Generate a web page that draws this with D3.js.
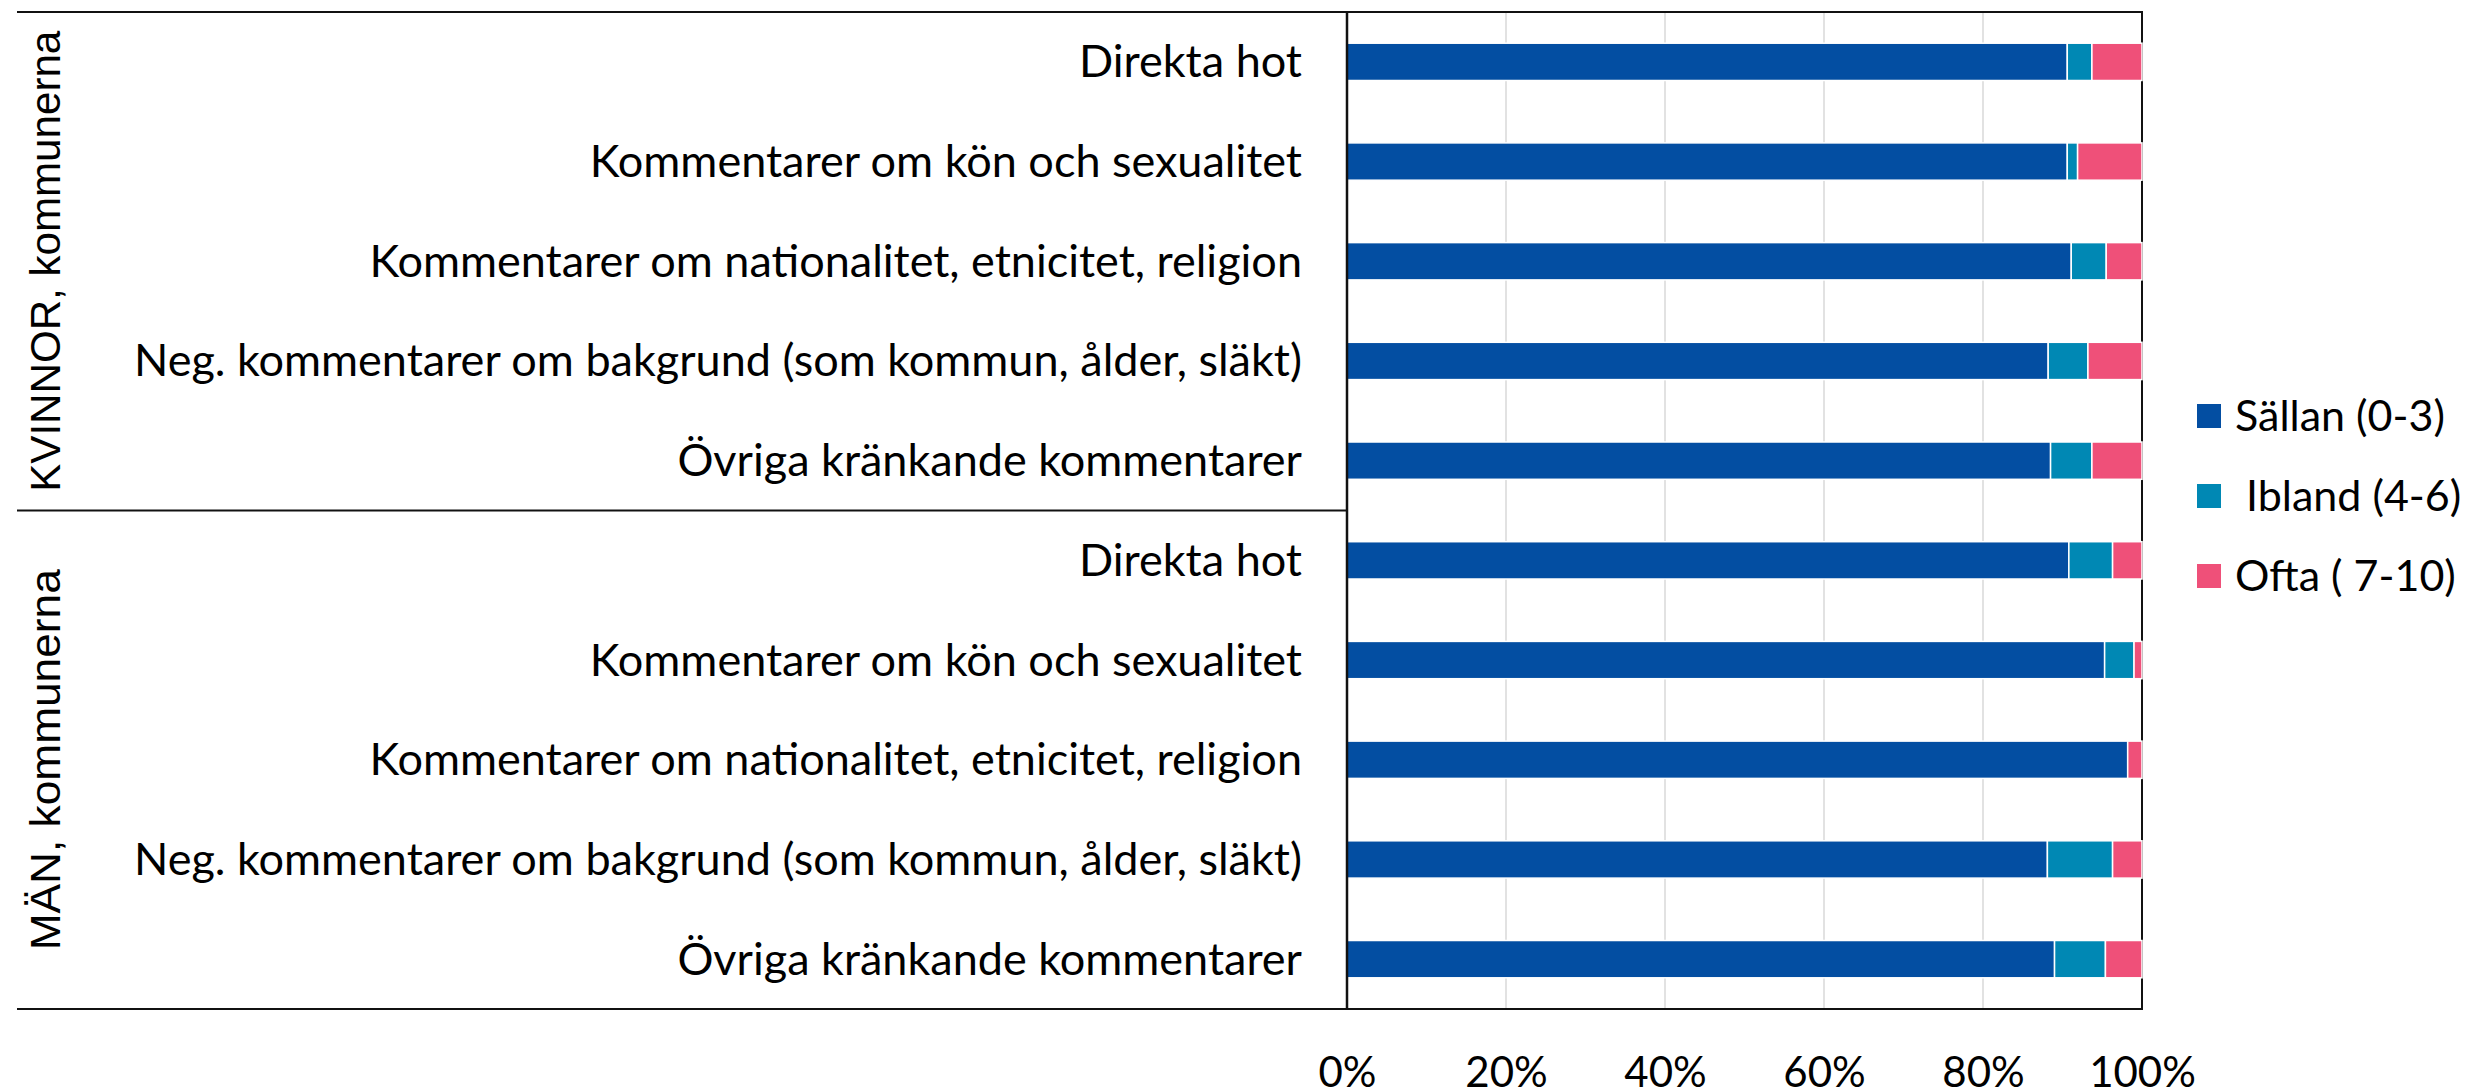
<!DOCTYPE html>
<html>
<head>
<meta charset="utf-8">
<script src="https://cdn.jsdelivr.net/npm/d3@7"></script>
<style>
  html, body { margin: 0; padding: 0; background: #fff; }
  svg { display: block; }
</style>
</head>
<body>
<svg id="chart" width="2474" height="1090"></svg>
<script>
// chart values (percent of answers)
var groups = ["KVINNOR, kommunerna", "MÄN, kommunerna"];
var categories = ["Direkta hot",
                  "Kommentarer om kön och sexualitet",
                  "Kommentarer om nationalitet, etnicitet, religion",
                  "Neg. kommentarer om bakgrund (som kommun, ålder, släkt)",
                  "Övriga kränkande kommentarer"];
var seriesNames = ["Sällan (0-3)", " Ibland (4-6)", "Ofta ( 7-10)"];
var sallan = [90.6, 90.6, 91.1, 88.2, 88.5,   90.8, 95.3, 98.2, 88.1, 89.0];
var ibland = [3.1, 1.3, 4.4, 5.0, 5.2,        5.5, 3.7, 0.0, 8.2, 6.4];
var ofta   = [6.3, 8.1, 4.5, 6.8, 6.3,        3.7, 1.0, 1.8, 3.7, 4.6];
var tickValues = [0, 0.2, 0.4, 0.6, 0.8, 1];
var colors = ["#034ea2", "#0088b4", "#ef5079"];

var svg = d3.select("#chart");
var margin = {top: 12, left: 1347, right: 332, bottom: 81};
var width = 2474 - margin.left - margin.right,
    height = 1090 - margin.top - margin.bottom;
var font = "Lato, 'Open Sans', sans-serif";

// one row per group/category pair
var rows = [];
groups.forEach(function(g, gi) {
    categories.forEach(function(c, ci) {
        var i = gi * categories.length + ci;
        rows.push({key: gi + "|" + c, group: g, cat: c,
                   s0: sallan[i] / 100, s1: ibland[i] / 100, s2: ofta[i] / 100});
    });
});

var x = d3.scaleLinear().domain([0, 1]).range([0, width]);
var y = d3.scaleBand()
    .domain(rows.map(function(d) { return d.key; }))
    .range([0, height])
    .paddingInner(0.626)
    .paddingOuter(0.313);

var g = svg.append("g").attr("transform", "translate(" + margin.left + "," + margin.top + ")");

// gridlines
g.append("g")
    .selectAll("line")
    .data(tickValues.slice(1, -1))
    .enter().append("line")
    .attr("x1", function(d) { return x(d); })
    .attr("x2", function(d) { return x(d); })
    .attr("y1", 0).attr("y2", height)
    .attr("stroke", "#d9d9d9").attr("stroke-width", 1.5);

// plot border (right side is covered by bars)
g.append("rect")
    .attr("x", 0).attr("y", 0)
    .attr("width", width).attr("height", height)
    .attr("fill", "none").attr("stroke", "#111").attr("stroke-width", 2);

var stacked = d3.stack().keys(["s0", "s1", "s2"])(rows);

g.selectAll(".series")
    .data(stacked)
    .enter().append("g")
    .attr("class", "series")
    .attr("fill", function(d, i) { return colors[i]; })
    .selectAll("rect")
    .data(function(d) { return d; })
    .enter().append("rect")
    .filter(function(d) { return d[1] - d[0] > 0; })
    .attr("x", function(d) { return x(d[0]); })
    .attr("y", function(d) { return y(d.data.key); })
    .attr("width", function(d) { return x(d[1]) - x(d[0]); })
    .attr("height", y.bandwidth())
    .attr("stroke", "#fff").attr("stroke-width", 1.5);

// left axis line
g.append("line")
    .attr("x1", 0).attr("x2", 0).attr("y1", 0).attr("y2", height)
    .attr("stroke", "#111").attr("stroke-width", 2.5);

// category labels
g.append("g")
    .selectAll("text")
    .data(rows)
    .enter().append("text")
    .attr("x", -45)
    .attr("y", function(d) { return y(d.key) + y.bandwidth() / 2 + 15.5; })
    .attr("text-anchor", "end")
    .attr("font-family", font)
    .attr("font-size", 45)
    .attr("fill", "#000")
    .text(function(d) { return d.cat; });

// group separator lines, reaching out to the left
var groupEdges = [0];
groups.forEach(function(gr, gi) {
    groupEdges.push(y(gi + "|" + categories[categories.length - 1]) + y.step() * 0.687);
});
groupEdges[groupEdges.length - 1] = height;
g.append("g")
    .selectAll("line")
    .data(groupEdges)
    .enter().append("line")
    .attr("x1", 17 - margin.left).attr("x2", function(d, i) { return (i === 1) ? 0 : width; })
    .attr("y1", function(d) { return d; }).attr("y2", function(d) { return d; })
    .attr("stroke", "#111").attr("stroke-width", 2);

// group labels, rotated
var groupLens = [461, 381];
g.append("g")
    .selectAll("text")
    .data(groups)
    .enter().append("text")
    .attr("transform", function(d, i) {
        var mid = (groupEdges[i] + groupEdges[i + 1]) / 2;
        return "translate(" + (60 - margin.left) + "," + (mid + groupLens[i] / 2) + ") rotate(-90)";
    })
    .attr("text-anchor", "start")
    .attr("font-family", "'Liberation Sans', Arial, sans-serif")
    .attr("font-size", 43)
    .attr("textLength", function(d, i) { return groupLens[i]; })
    .attr("lengthAdjust", "spacingAndGlyphs")
    .attr("fill", "#000")
    .text(function(d) { return d; });

// x axis labels
var xAxis = g.append("g")
    .attr("transform", "translate(0," + height + ")")
    .call(d3.axisBottom(x).tickValues(tickValues).tickFormat(d3.format(".0%")).tickSize(0).tickPadding(48));
xAxis.select(".domain").remove();
xAxis.selectAll("text")
    .attr("font-family", font)
    .attr("font-size", 42)
    .attr("fill", "#000");

// legend
var legend = svg.append("g").attr("transform", "translate(2197,404)");
var li = legend.selectAll("g")
    .data(seriesNames)
    .enter().append("g")
    .attr("transform", function(d, i) { return "translate(0," + (i * 80) + ")"; });
li.append("rect")
    .attr("width", 24).attr("height", 24)
    .attr("fill", function(d, i) { return colors[i]; });
li.append("text")
    .attr("x", 38).attr("y", 27)
    .attr("xml:space", "preserve")
    .style("white-space", "pre")
    .attr("font-family", font)
    .attr("font-size", 43)
    .attr("fill", "#000")
    .text(function(d) { return d; });
</script>
</body>
</html>
